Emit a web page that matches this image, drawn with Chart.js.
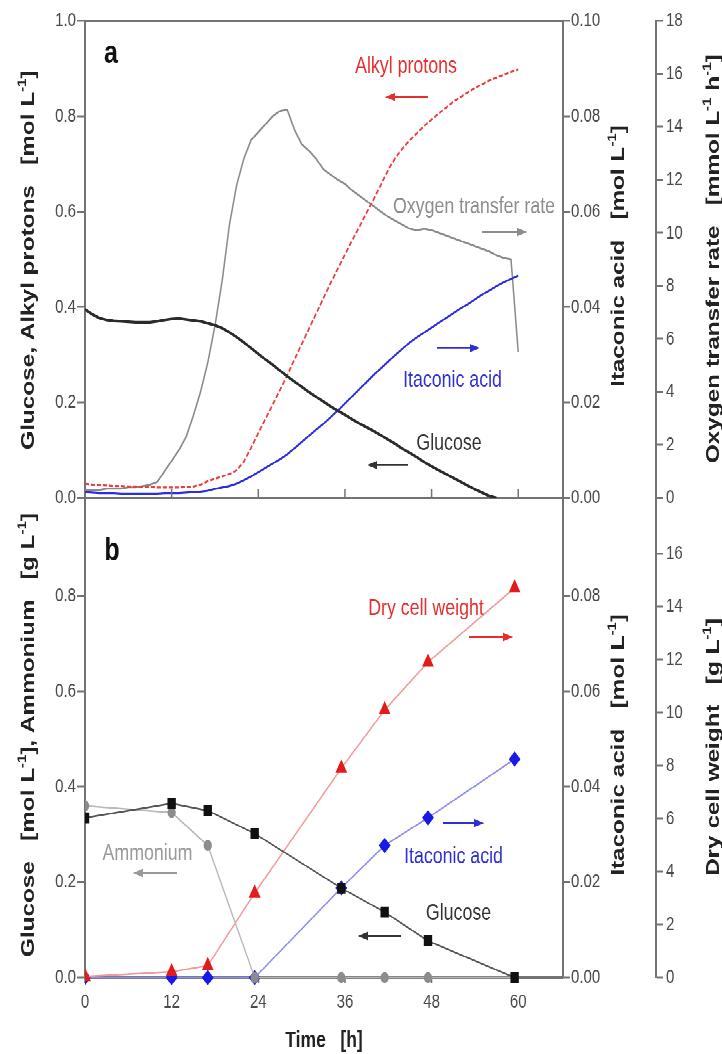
<!DOCTYPE html>
<html><head><meta charset="utf-8">
<script src="https://cdn.jsdelivr.net/npm/chart.js@4.4.1/dist/chart.umd.min.js"></script>
<style>
html{margin:0;padding:0;background:#fff;overflow:hidden;height:1054px;}
body{margin:0;padding:0;background:#fff;height:1054px;}
#wrap{position:absolute;left:0;top:0;width:722px;height:811px;transform:scaleY(1.3);transform-origin:0 0;}
#ca{position:absolute;left:0;top:0;}
#cb{position:absolute;left:0;top:373px;}
</style></head><body>
<div id="wrap"><canvas id="ca" width="722" height="395"></canvas><canvas id="cb" width="722" height="438"></canvas></div>
<script>
// ---------- Panel a (online signals) ----------
const hoursA = [0,1,2,3,4,5,6,7,8,9,10,11,12,13,14,15,16,17,18,19,20,21,22,23,24,25,26,27,28,29,30,31,32,33,34,35,36,37,38,39,40,41,42,43,44,45,46,47,48,49,50,51,52,53,54,55,56,57,58,59,60];
const glucoseA = [0.395,0.385,0.377,0.373,0.371,0.37,0.369,0.368,0.368,0.368,0.37,0.373,0.375,0.376,0.374,0.372,0.37,0.366,0.362,0.356,0.347,0.337,0.326,0.314,0.302,0.29,0.279,0.267,0.255,0.244,0.233,0.222,0.212,0.202,0.192,0.183,0.174,0.165,0.156,0.148,0.14,0.131,0.122,0.113,0.103,0.094,0.085,0.075,0.066,0.058,0.05,0.042,0.034,0.026,0.018,0.011,0.004,0,null,null,null];
const alkylA = [0.03,0.028,0.027,0.026,0.025,0.025,0.024,0.024,0.023,0.023,0.022,0.022,0.022,0.022,0.023,0.024,0.028,0.035,0.04,0.045,0.05,0.058,0.076,0.105,0.136,0.166,0.196,0.226,0.257,0.29,0.322,0.354,0.386,0.418,0.45,0.48,0.51,0.54,0.568,0.598,0.627,0.657,0.688,0.713,0.733,0.75,0.765,0.78,0.793,0.806,0.818,0.83,0.84,0.85,0.859,0.867,0.875,0.881,0.887,0.893,0.898];
const itaconicA = [0.0012,0.0011,0.001,0.001,0.001,0.0009,0.0009,0.0009,0.0009,0.0009,0.0009,0.001,0.001,0.001,0.0011,0.0012,0.0013,0.0015,0.0019,0.0022,0.0025,0.003,0.0037,0.0045,0.0054,0.0063,0.0072,0.0081,0.0091,0.0104,0.0117,0.013,0.0143,0.0155,0.0169,0.0183,0.0198,0.0213,0.0228,0.0243,0.0258,0.0272,0.0286,0.03,0.0313,0.0326,0.0337,0.0347,0.0357,0.0367,0.0377,0.0387,0.0397,0.0406,0.0416,0.0426,0.0435,0.0444,0.0452,0.0459,0.0466];
const otrA = [0.3,0.3,0.3,0.35,0.35,0.35,0.4,0.4,0.45,0.5,0.6,1.0,1.4,1.8,2.3,3.1,4.0,5.1,6.5,8.2,10.3,11.8,12.8,13.5,13.8,14.1,14.4,14.6,14.65,13.9,13.35,13.1,12.8,12.4,12.2,12.0,11.85,11.6,11.4,11.2,11.0,10.8,10.6,10.45,10.3,10.15,10.1,10.15,10.1,10.0,9.9,9.8,9.7,9.6,9.5,9.4,9.3,9.15,9.05,9.0,5.5];

// ---------- Panel b (offline samples) ----------
const hoursB = [0,12,17,23.5,35.5,41.5,47.5,59.5];
const glucoseB = [0.335,0.365,0.35,0.302,0.1875,0.1375,0.077,0.0];
const ammoniumB = [0.36,0.346,0.277,0.0,0.0,0.0,0.0,0.0];
const dcwB = [0.04,0.22,0.45,3.19,7.9,10.1,11.9,14.7];
const itaconicB = [0,0,0,0,0.0188,0.0277,0.0335,0.0458];

// ---------- Tick labels ----------
const timeTicks = [0,12,24,36,48,60];
const leftTicksA = [0,0.2,0.4,0.6,0.8,1.0];
const itaTicksA = [0,0.02,0.04,0.06,0.08,0.10];
const otrTicks = [0,2,4,6,8,10,12,14,16,18];
const leftTicksB = [0,0.2,0.4,0.6,0.8];
const itaTicksB = [0,0.02,0.04,0.06,0.08];
const dcwTicks = [0,2,4,6,8,10,12,14,16];

const FONT = '"Liberation Sans", Arial, sans-serif';
Chart.defaults.font.family = FONT;
const AX = '#737373';
const TICKCOL = '#4a4a4a';

const pts = (xs, ys) => xs.map((x, i) => ({x: x, y: ys[i]})).filter(p => p.y !== null);

function yAxis(pos, max, ticks, width, weight, dec, tl, pad) {
  return {
    type: 'linear', position: pos, min: 0, max: max, weight: weight,
    afterFit: s => { s.width = width; },
    afterBuildTicks: s => { s.ticks = ticks.map(v => ({value: v})); },
    border: {display: true, color: AX, width: 2},
    grid: {display: true, drawOnChartArea: false, drawTicks: true, tickLength: tl, color: AX, tickWidth: 1.5},
    ticks: {autoSkip: false, padding: pad, color: TICKCOL, font: {size: 15}, callback: v => Number(v).toFixed(dec)}
  };
}

function richText(ctx, parts, x, y, angle, size, weight, color) {
  const fN = weight + ' ' + size + 'px ' + FONT;
  const fS = weight + ' ' + (size * 0.62) + 'px ' + FONT;
  let W = 0;
  parts.forEach(p => { ctx.font = p[1] ? fS : fN; W += ctx.measureText(p[0]).width; });
  ctx.save();
  ctx.translate(x, y); ctx.rotate(angle);
  ctx.fillStyle = color; ctx.textBaseline = 'middle'; ctx.textAlign = 'left';
  let cx = -W / 2;
  parts.forEach(p => {
    ctx.font = p[1] ? fS : fN;
    ctx.fillText(p[0], cx, p[1] ? -size * 0.33 : 0);
    cx += ctx.measureText(p[0]).width;
  });
  ctx.restore();
}
function label(ctx, text, x, y, size, weight, color) {
  ctx.save();
  ctx.font = weight + ' ' + size + 'px ' + FONT;
  ctx.fillStyle = color; ctx.textAlign = 'center'; ctx.textBaseline = 'alphabetic';
  ctx.fillText(text, x, y);
  ctx.restore();
}
function arrow(ctx, x1, x2, y, color, headLeft) {
  ctx.save();
  ctx.strokeStyle = color; ctx.fillStyle = color; ctx.lineWidth = 1.4;
  const hx = headLeft ? x1 : x2, dir = headLeft ? 1 : -1;
  ctx.beginPath(); ctx.moveTo(x1 + (headLeft ? 6 : 0), y); ctx.lineTo(x2 - (headLeft ? 0 : 6), y); ctx.stroke();
  ctx.beginPath(); ctx.moveTo(hx, y); ctx.lineTo(hx + dir * 10, y - 3.2); ctx.lineTo(hx + dir * 10, y + 3.2); ctx.closePath(); ctx.fill();
  ctx.restore();
}
const SUPTITLE = 18.7;
const ANN = 17.8;

const decoA = {
  id: 'decoA',
  afterDraw(chart) {
    const ctx = chart.ctx, ca = chart.chartArea, xs = chart.scales.x;
    ctx.save();
    ctx.strokeStyle = AX; ctx.lineWidth = 2;
    ctx.beginPath(); ctx.moveTo(ca.left - 1, ca.top); ctx.lineTo(ca.right + 1, ca.top); ctx.stroke();
    ctx.lineWidth = 1.5;
    timeTicks.forEach(v => {
      if (v === 0) return;
      const px = xs.getPixelForValue(v);
      ctx.beginPath(); ctx.moveTo(px, ca.bottom); ctx.lineTo(px, ca.bottom - 7); ctx.stroke();
    });
    ctx.restore();
    label(ctx, 'a', 111, 48.5, 25, 'bold', '#111');
    label(ctx, 'Alkyl protons', 406, 56.2, ANN, 'normal', '#e62e2e');
    arrow(ctx, 385, 428, 74.6, '#e62e2e', true);
    label(ctx, 'Oxygen transfer rate', 474, 163.8, ANN, 'normal', '#8c8c8c');
    arrow(ctx, 482, 527, 178.5, '#8c8c8c', false);
    label(ctx, 'Itaconic acid', 452.5, 297.7, ANN, 'normal', '#2f2fd8');
    arrow(ctx, 437, 480, 267.7, '#2f2fd8', false);
    label(ctx, 'Glucose', 449, 346.2, ANN, 'normal', '#333');
    arrow(ctx, 367, 408, 357.7, '#333', true);
    richText(ctx, [['Glucose, Alkyl protons   [mol L'], ['-1', 1], [']']], 29, 200, -Math.PI / 2, SUPTITLE, 'bold', '#222');
    richText(ctx, [['Itaconic acid   [mol L'], ['-1', 1], [']']], 619, 197, -Math.PI / 2, SUPTITLE, 'bold', '#222');
    richText(ctx, [['Oxygen transfer rate   [mmol L'], ['-1', 1], [' h'], ['-1', 1], [']']], 714, 199, -Math.PI / 2, SUPTITLE, 'bold', '#222');
  }
};

const decoB = {
  id: 'decoB',
  afterDraw(chart) {
    const ctx = chart.ctx;
    label(ctx, 'b', 112, 57.8, 25, 'bold', '#111');
    label(ctx, 'Dry cell weight', 426, 100.1, ANN, 'normal', '#e62e2e');
    arrow(ctx, 469, 513, 117, '#e62e2e', false);
    label(ctx, 'Itaconic acid', 453.5, 290.8, ANN, 'normal', '#2f2fd8');
    arrow(ctx, 443, 484, 260.1, '#2f2fd8', false);
    label(ctx, 'Glucose', 458.5, 334.7, ANN, 'normal', '#333');
    arrow(ctx, 358, 401, 347, '#333', true);
    label(ctx, 'Ammonium', 147.5, 288.5, ANN, 'normal', '#999');
    arrow(ctx, 133, 177, 298.5, '#999', true);
    richText(ctx, [['Glucose   [mol L'], ['-1', 1], ['], Ammonium   [g L'], ['-1', 1], [']']], 29, 192.4, -Math.PI / 2, SUPTITLE, 'bold', '#222');
    richText(ctx, [['Itaconic acid   [mol L'], ['-1', 1], [']']], 619, 200, -Math.PI / 2, SUPTITLE, 'bold', '#222');
    richText(ctx, [['Dry cell weight   [g L'], ['-1', 1], [']']], 714, 201.6, -Math.PI / 2, SUPTITLE, 'bold', '#222');
  }
};

const common = {
  responsive: false, animation: false, devicePixelRatio: 2, events: [],
  plugins: {legend: {display: false}, tooltip: {enabled: false}}
};

new Chart(document.getElementById('ca'), {
  type: 'line',
  data: {datasets: [
    {label: 'Glucose', data: pts(hoursA, glucoseA), yAxisID: 'yL', borderColor: '#2b2b2b', borderWidth: 2.2, pointRadius: 0},
    {label: 'Alkyl protons', data: pts(hoursA, alkylA), yAxisID: 'yL', borderColor: '#ee3b3b', borderWidth: 1.6, borderDash: [4, 2], pointRadius: 0},
    {label: 'Itaconic acid', data: pts(hoursA, itaconicA), yAxisID: 'yI', borderColor: '#2d2de0', borderWidth: 1.6, pointRadius: 0},
    {label: 'Oxygen transfer rate', data: pts(hoursA, otrA), yAxisID: 'yO', borderColor: '#8a8a8a', borderWidth: 1.5, pointRadius: 0}
  ]},
  options: Object.assign({}, common, {
    layout: {autoPadding: false, padding: {top: 16, left: 0, right: 0, bottom: 0}},
    scales: {
      x: {type: 'linear', position: 'bottom', min: 0, max: 66.2,
          afterFit: s => { s.height = 11; },
          afterBuildTicks: s => { s.ticks = timeTicks.map(v => ({value: v})); },
          border: {display: true, color: AX, width: 2}, grid: {display: false}, ticks: {display: false}},
      yL: yAxis('left', 1.0, leftTicksA, 85, 0, 1, 8, 1),
      yI: yAxis('right', 0.10, itaTicksA, 93, 0, 2, 7, 1),
      yO: yAxis('right', 18, otrTicks, 66, 1, 0, 7, 3)
    }
  }),
  plugins: [decoA]
});

new Chart(document.getElementById('cb'), {
  type: 'line',
  data: {datasets: [
    {label: 'Glucose', data: pts(hoursB, glucoseB), yAxisID: 'yL', borderColor: '#555', borderWidth: 1.3,
     pointStyle: 'rect', pointRadius: 5, pointBackgroundColor: '#111', pointBorderColor: '#111', clip: {left: 0, top: 10, right: 10, bottom: 10}},
    {label: 'Ammonium', data: pts(hoursB, ammoniumB), yAxisID: 'yL', borderColor: '#b8b8b8', borderWidth: 1.3,
     pointStyle: 'circle', pointRadius: 3.5, pointBackgroundColor: '#8c8c8c', pointBorderColor: '#8c8c8c', clip: {left: 0, top: 10, right: 10, bottom: 10}},
    {label: 'Dry cell weight', data: pts(hoursB, dcwB), yAxisID: 'yD', borderColor: '#f29a9a', borderWidth: 1.3,
     pointStyle: 'triangle', pointRadius: 5.5, pointBackgroundColor: '#e31b1b', pointBorderColor: '#e31b1b', clip: {left: 0, top: 10, right: 10, bottom: 10}},
    {label: 'Itaconic acid', data: pts(hoursB, itaconicB), yAxisID: 'yI', borderColor: '#8f8fef', borderWidth: 1.3,
     pointStyle: 'rectRot', pointRadius: 5, pointBackgroundColor: '#1a1ae6', pointBorderColor: '#1a1ae6', clip: {left: 0, top: 10, right: 10, bottom: 10}}
  ]},
  options: Object.assign({}, common, {
    layout: {autoPadding: false, padding: {top: 10, left: 0, right: 0, bottom: 0}},
    scales: {
      x: {type: 'linear', position: 'bottom', min: 0, max: 66.2,
          afterFit: s => { s.height = 59; },
          afterBuildTicks: s => { s.ticks = timeTicks.map(v => ({value: v})); },
          border: {display: true, color: AX, width: 2},
          grid: {display: true, drawOnChartArea: false, drawTicks: true, tickLength: 4, color: AX, tickWidth: 1.5},
          ticks: {autoSkip: false, maxRotation: 0, padding: 6, color: TICKCOL, font: {size: 15}, callback: v => String(v)},
          title: {display: true, text: 'Time   [h]', color: '#222', font: {size: 17.5, weight: 'bold'}, padding: {top: 0, bottom: 0}}},
      yL: yAxis('left', 1.0, leftTicksB, 85, 0, 1, 8, 1),
      yI: yAxis('right', 0.10, itaTicksB, 93, 0, 2, 7, 1),
      yD: yAxis('right', 18, dcwTicks, 66, 1, 0, 7, 3)
    }
  }),
  plugins: [decoB]
});
</script>
</body></html>
